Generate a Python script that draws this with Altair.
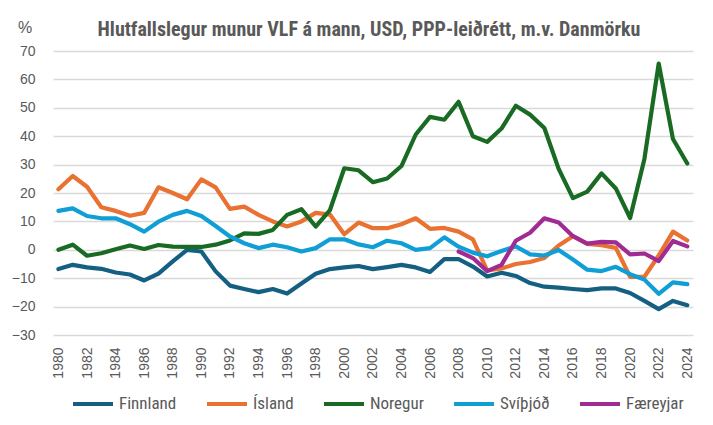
import altair as alt
import pandas as pd

years = list(range(1980, 2025))

finnland = [-6.8, -5.3, -6.2, -6.7, -8.0, -8.7, -10.8, -8.4, -4.1, 0.0,
            -0.6, -7.6, -12.6, -13.8, -14.9, -13.8, -15.4, -11.9, -8.4, -6.8,
            -6.2, -5.7, -6.8, -6.1, -5.3, -6.2, -7.8, -3.3, -3.3, -5.9,
            -9.4, -8.1, -9.2, -11.7, -13.0, -13.3, -13.8, -14.2, -13.6, -13.6,
            -15.2, -18.0, -20.9, -18.0, -19.5]
island = [21.3, 26.0, 22.2, 15.0, 13.7, 12.0, 13.0, 22.0, 20.0, 17.8,
          24.8, 22.0, 14.4, 15.2, 12.3, 10.0, 8.2, 10.0, 13.0, 12.4,
          5.5, 9.6, 7.6, 7.6, 9.0, 11.1, 7.4, 7.7, 6.4, 3.7,
          -7.3, -6.6, -5.0, -4.3, -2.9, 1.5, 4.8, 2.1, 1.6, 0.7,
          -9.5, -9.5, -2.0, 6.4, 3.3]
noregur = [0.0, 1.8, -2.1, -1.2, 0.2, 1.5, 0.3, 1.7, 1.1, 1.0,
           1.0, 1.8, 3.3, 5.8, 5.6, 7.0, 12.3, 14.3, 8.2, 14.0,
           28.7, 28.0, 23.8, 25.1, 29.5, 40.6, 46.8, 45.8, 52.1, 40.0,
           38.0, 42.7, 50.7, 47.6, 42.9, 28.5, 18.2, 20.5, 26.9, 21.6,
           11.2, 32.0, 65.6, 39.0, 30.4]
svithjod = [13.7, 14.6, 11.9, 11.1, 11.1, 9.0, 6.4, 9.9, 12.3, 13.7,
            11.9, 8.4, 4.7, 2.3, 0.6, 1.8, 0.9, -0.6, 0.6, 3.7,
            3.7, 1.9, 0.9, 3.2, 2.3, 0.0, 0.6, 4.4, 1.1, -1.0,
            -2.3, -0.4, 1.2, -1.6, -2.0, -0.1, -3.4, -7.0, -7.5, -6.0,
            -8.6, -10.5, -15.5, -11.5, -12.1]
faereyjar_years = list(range(2008, 2025))
faereyjar = [-0.6, -2.9, -7.5, -5.3, 3.2, 6.0, 11.1, 9.6, 4.8, 2.2,
             2.8, 2.6, -1.6, -1.3, -4.0, 3.1, 1.2]

series_names = ["Finnland", "Ísland", "Noregur", "Svíþjóð", "Færeyjar"]
series_colors = ["#156082", "#E97132", "#196B24", "#0F9ED5", "#A02B93"]
x_tick_values = list(range(1980, 2025, 2))
y_tick_values = list(range(-30, 71, 10))
title_text = "Hlutfallslegur munur VLF á mann, USD, PPP-leiðrétt, m.v. Danmörku"
unit_text = "%"

rows = []
for name, vals in [("Finnland", finnland), ("Ísland", island),
                   ("Noregur", noregur), ("Svíþjóð", svithjod)]:
    for yr, v in zip(years, vals):
        rows.append({"ar": yr, "gildi": v, "land": name})
for yr, v in zip(faereyjar_years, faereyjar):
    rows.append({"ar": yr, "gildi": v, "land": "Færeyjar"})
df = pd.DataFrame(rows)
df["rod"] = df["land"].map({n: i for i, n in enumerate(series_names)})

NARROW = "Liberation Sans Narrow, Roboto Condensed, Arial Narrow, sans-serif"
GRAY = "#595959"

lines = alt.Chart(df).mark_line(
    strokeWidth=4.2, strokeCap="round", strokeJoin="round"
).encode(
    x=alt.X("ar:Q",
            scale=alt.Scale(domain=[1979.62, 2024.4], nice=False, zero=False),
            axis=alt.Axis(values=x_tick_values, format="d", labelAngle=270,
                          grid=False, domain=False, ticks=False,
                          labelPadding=12, labelFontSize=14,
                          labelFont="Liberation Sans", labelColor=GRAY,
                          labelOverlap=False, title=None)),
    y=alt.Y("gildi:Q",
            scale=alt.Scale(domain=[-30, 70], nice=False),
            axis=alt.Axis(values=y_tick_values, grid=True, gridColor="#D9D9D9",
                          gridWidth=1.5, domain=False, ticks=False,
                          labelPadding=18, labelFontSize=14,
                          labelFont="Liberation Sans", labelColor=GRAY,
                          title=None)),
    color=alt.Color("land:N",
                    scale=alt.Scale(domain=series_names, range=series_colors),
                    sort=series_names,
                    legend=alt.Legend(title=None, orient="none", direction="horizontal",
                                      legendX=18, legendY=331,
                                      symbolType="stroke", symbolSize=1600,
                                      symbolStrokeWidth=4, labelFontSize=17,
                                      labelFont=NARROW, labelColor=GRAY,
                                      labelOffset=4, columnPadding=22)),
    order=alt.Order("rod:Q"),
)

pct = alt.Chart(pd.DataFrame({"t": [unit_text]})).mark_text(
    fontSize=16, font="Liberation Sans", color=GRAY, align="left", baseline="middle"
).encode(x=alt.value(-35), y=alt.value(-23), text="t:N")

title = alt.Chart(pd.DataFrame({"t": [title_text]})).mark_text(
    fontSize=20, font=NARROW, fontWeight="bold", color=GRAY,
    align="center", baseline="middle"
).encode(x=alt.value(316), y=alt.value(-21), text="t:N")

chart = alt.layer(lines, pct, title).properties(
    width=640, height=284,
    autosize=alt.AutoSizeParams(type="none"),
    padding={"left": 45, "top": 43, "right": 12, "bottom": 82},
).configure_view(stroke=None)

chart.save("out.html", embed_options={"renderer": "svg", "actions": False})
